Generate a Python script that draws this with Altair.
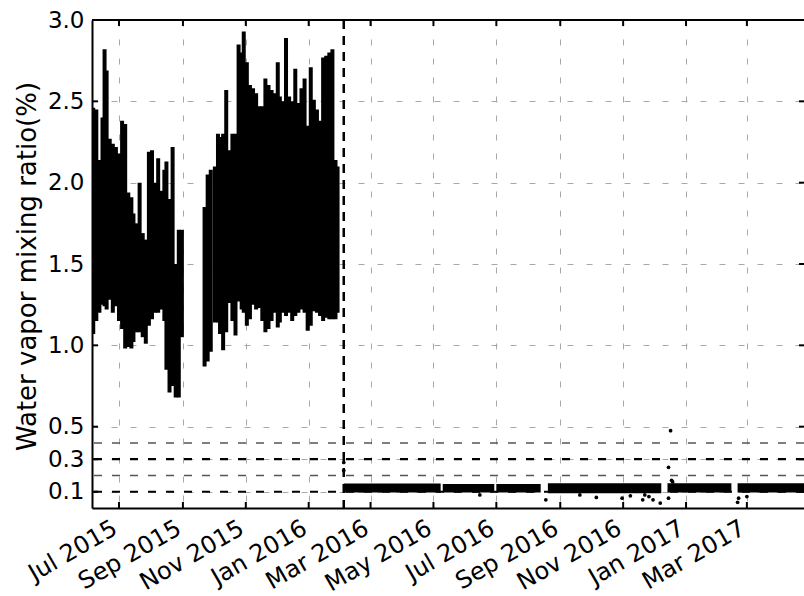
import altair as alt
import pandas as pd

# Humid period (Jun 2015 - Jan 2016): spread of the dense samples, low/high per reading
wet_dates = [
    "2015-06-06", "2015-06-09", "2015-06-12", "2015-06-15", "2015-06-17", "2015-06-19",
    "2015-06-22", "2015-06-25", "2015-06-28", "2015-07-01", "2015-07-04", "2015-07-07",
    "2015-07-10", "2015-07-13", "2015-07-15", "2015-07-18", "2015-07-21", "2015-07-24",
    "2015-07-27", "2015-07-30", "2015-08-02", "2015-08-05", "2015-08-08", "2015-08-11",
    "2015-08-14", "2015-08-16", "2015-08-19", "2015-08-22", "2015-08-25", "2015-08-28",
    "2015-08-31",
    "2015-09-22", "2015-09-25", "2015-09-28", "2015-10-02", "2015-10-05", "2015-10-07",
    "2015-10-10", "2015-10-13", "2015-10-16", "2015-10-19", "2015-10-22", "2015-10-25",
    "2015-10-28", "2015-10-30", "2015-11-02", "2015-11-05", "2015-11-08", "2015-11-11",
    "2015-11-14", "2015-11-17", "2015-11-20", "2015-11-23", "2015-11-26", "2015-11-29",
    "2015-12-02", "2015-12-04", "2015-12-07", "2015-12-10", "2015-12-13", "2015-12-16",
    "2015-12-19", "2015-12-22", "2015-12-25", "2015-12-28", "2015-12-31", "2016-01-03",
    "2016-01-06", "2016-01-09", "2016-01-12", "2016-01-15", "2016-01-18", "2016-01-21",
    "2016-01-24", "2016-01-27", "2016-01-29",
]
wet_low = [
    1.07, 1.15, 1.20, 1.25, 1.24, 1.22, 1.28, 1.20, 1.24, 1.15, 1.10, 0.98,
    0.99, 0.98, 1.02, 1.08, 1.08, 1.05, 1.01, 1.12, 1.16, 1.20, 1.20, 1.22,
    1.15, 0.85, 0.71, 0.75, 0.68, 0.68, 1.05,
    0.87, 0.90, 0.96, 1.14, 1.14, 1.07, 0.97, 1.08, 1.26, 1.15, 1.06, 1.27,
    1.22, 1.20, 1.12, 1.16, 1.25, 1.22, 1.23, 1.15, 1.08, 1.10, 1.15, 1.20,
    1.11, 1.14, 1.20, 1.18, 1.20, 1.15, 1.18, 1.20, 1.22, 1.20, 1.09, 1.12,
    1.21, 1.20, 1.18, 1.15, 1.17, 1.16, 1.16, 1.16, 1.20,
]
wet_high = [
    2.46, 2.45, 2.14, 2.40, 2.82, 2.69, 2.27, 2.24, 2.22, 2.18, 2.38, 2.36,
    1.94, 1.91, 1.81, 1.75, 2.00, 1.69, 1.65, 2.19, 2.20, 2.00, 2.15, 1.95,
    2.08, 2.13, 1.90, 2.22, 1.50, 1.71, 1.71,
    1.85, 2.05, 2.08, 2.10, 2.30, 2.28, 2.30, 2.57, 2.20, 2.30, 2.30, 2.85,
    2.80, 2.93, 2.74, 2.60, 2.58, 2.55, 2.47, 2.47, 2.64, 2.60, 2.57, 2.55,
    2.74, 2.53, 2.50, 2.89, 2.53, 2.50, 2.70, 2.49, 2.58, 2.64, 2.35, 2.71,
    2.51, 2.45, 2.38, 2.77, 2.78, 2.80, 2.82, 2.14, 2.10,
]

# Dry period (from Feb 2016): continuous runs of samples
dry_start = ["2016-02-04", "2016-05-10", "2016-07-01", "2016-08-20", "2016-12-14", "2017-02-20"]
dry_end = ["2016-05-08", "2016-06-29", "2016-08-13", "2016-12-08", "2017-02-14", "2017-04-26"]
dry_low = [0.095, 0.095, 0.095, 0.090, 0.095, 0.095]
dry_high = [0.150, 0.148, 0.148, 0.152, 0.152, 0.152]

# Isolated samples outside the dry band
stray_dates = [
    "2016-02-04", "2016-02-04", "2016-06-15", "2016-08-18", "2016-09-20", "2016-10-06",
    "2016-10-31", "2016-11-08", "2016-11-20", "2016-11-22", "2016-11-26", "2016-11-30",
    "2016-12-07", "2016-12-15", "2016-12-15", "2016-12-17", "2016-12-18", "2016-12-19",
    "2017-02-20", "2017-02-21", "2017-03-01",
]
stray_values = [
    0.28, 0.23, 0.08, 0.05, 0.08, 0.065,
    0.06, 0.075, 0.05, 0.08, 0.07, 0.05,
    0.03, 0.06, 0.25, 0.475, 0.17, 0.16,
    0.035, 0.06, 0.07,
]

# Threshold lines and the instrument change date
strong_levels = [0.1, 0.3]
light_levels = [0.2, 0.4]
change_date = ["2016-02-04"]

tick_dates = [
    "2015-07-01", "2015-09-01", "2015-11-01", "2016-01-01", "2016-03-01", "2016-05-01",
    "2016-07-01", "2016-09-01", "2016-11-01", "2017-01-01", "2017-03-01",
]
y_ticks = [0.1, 0.3, 0.5, 1.0, 1.5, 2.0, 2.5, 3.0]

W, H = 712, 488
FONT = "DejaVu Sans"


def dt(s, hours=0, minutes=0):
    t = pd.Timestamp(s)
    return alt.DateTime(year=t.year, month=t.month, date=t.day,
                        hours=hours, minutes=minutes, utc=True)


x_scale = alt.Scale(type="utc", domain=[dt("2015-06-04", 19, 30), dt("2017-04-25", 10)])
y_scale = alt.Scale(domain=[0, 3], nice=False, zero=False)

x_axis = alt.Axis(
    values=[dt(d) for d in tick_dates],
    labelExpr="utcFormat(datum.value, '%b %Y')",
    labelOverlap=False, labelBound=False, labelFlush=False,
    labelAngle=-30, labelAlign="right", labelBaseline="top", labelFontSize=24,
    labelPadding=8, labelOffset=-10, labelColor="black", labelFont=FONT,
    ticks=False, domainColor="black", domainWidth=2,
    grid=True, gridColor="#a8a8a8", gridDash=[6, 13], gridWidth=1, title=None,
)
y_axis = alt.Axis(
    values=y_ticks, format=".1f", labelFontSize=23, labelPadding=8, labelColor="black",
    labelFont=FONT, labelOverlap=False, ticks=False, domainColor="black", domainWidth=2,
    grid=True, gridColor="#a8a8a8", gridDash=[6, 13], gridWidth=1,
    title="Water vapor mixing ratio(%)", titleFontSize=26, titleFontWeight="normal",
    titleFont=FONT, titleColor="black", titleX=-57, titleY=246, titleAngle=270,
    titleAlign="center", titleBaseline="alphabetic",
)

wet = pd.DataFrame({"date": wet_dates, "low": wet_low, "high": wet_high})
dry = pd.DataFrame({"start": dry_start, "end": dry_end, "low": dry_low, "high": dry_high})
stray = pd.DataFrame({"date": stray_dates, "value": stray_values})
xt = pd.DataFrame({"date": tick_dates})
yt = pd.DataFrame({"v": y_ticks})

base_axes = alt.Chart(wet).mark_rule(color="black", strokeWidth=4, clip=True).encode(
    x=alt.X("date:T", scale=x_scale, axis=x_axis),
    y=alt.Y("low:Q", scale=y_scale, axis=y_axis),
    y2="high:Q",
)

dry_band = alt.Chart(dry).mark_rect(color="black", clip=True).encode(
    x=alt.X("start:T", scale=x_scale), x2="end:T",
    y=alt.Y("low:Q", scale=y_scale), y2="high:Q",
)

stray_pts = alt.Chart(stray).mark_circle(color="black", size=14, opacity=1, clip=True).encode(
    x=alt.X("date:T", scale=x_scale), y=alt.Y("value:Q", scale=y_scale),
)

strong = alt.Chart(pd.DataFrame({"v": strong_levels})).mark_rule(
    color="black", strokeWidth=2.2, strokeDash=[8, 10]
).encode(y=alt.Y("v:Q", scale=y_scale))

light = alt.Chart(pd.DataFrame({"v": light_levels})).mark_rule(
    color="#555555", strokeWidth=1.6, strokeDash=[8, 10]
).encode(y=alt.Y("v:Q", scale=y_scale))

change = alt.Chart(pd.DataFrame({"date": change_date})).mark_rule(
    color="black", strokeWidth=2.5, strokeDash=[9, 7]
).encode(x=alt.X("date:T", scale=x_scale))

# inward tick marks on all four sides
tick_style = dict(color="black", strokeWidth=2)
top_ticks = alt.Chart(xt).mark_rule(**tick_style).encode(
    x=alt.X("date:T", scale=x_scale), y=alt.value(0), y2=alt.value(6))
bottom_ticks = alt.Chart(xt).mark_rule(**tick_style).encode(
    x=alt.X("date:T", scale=x_scale), y=alt.value(H), y2=alt.value(H - 6))
left_ticks = alt.Chart(yt).mark_rule(**tick_style).encode(
    y=alt.Y("v:Q", scale=y_scale), x=alt.value(0), x2=alt.value(6))
right_ticks = alt.Chart(yt).mark_rule(**tick_style).encode(
    y=alt.Y("v:Q", scale=y_scale), x=alt.value(W - 5), x2=alt.value(W))

top_border = alt.Chart(xt).mark_rule(color="black", strokeWidth=2).encode(
    x=alt.value(0), x2=alt.value(W), y=alt.value(0))

chart = alt.layer(
    base_axes, dry_band, stray_pts, light, strong, change,
    top_ticks, bottom_ticks, left_ticks, right_ticks, top_border,
).properties(
    width=W, height=H,
    autosize=alt.AutoSizeParams(type="none"),
    padding={"left": 92, "top": 20, "right": 0, "bottom": 88},
    background="white",
).configure_view(stroke=None).configure(font=FONT)

chart.save("out.html", embed_options={"renderer": "svg", "actions": False})
